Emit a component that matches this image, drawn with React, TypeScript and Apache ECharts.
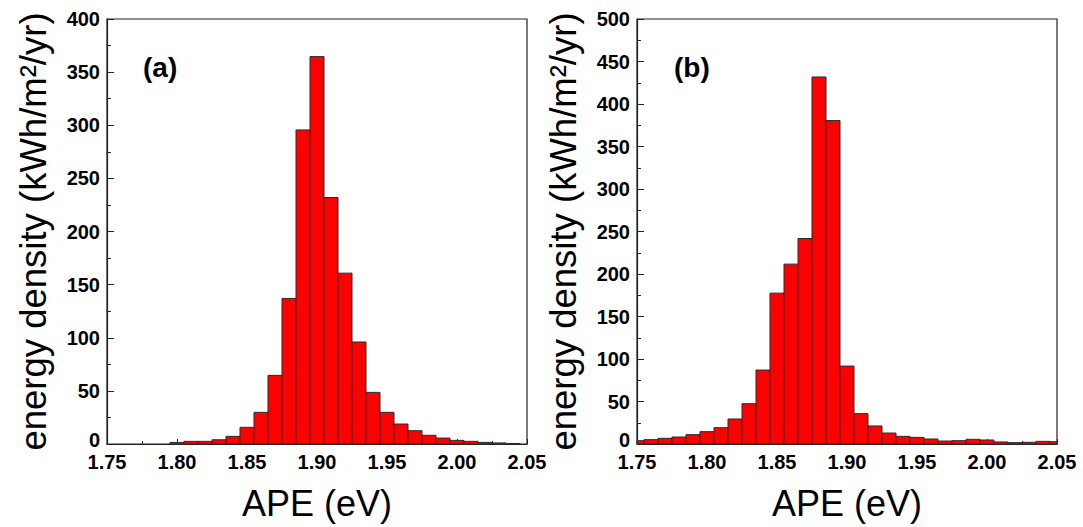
import React, { useEffect, useRef } from "react";
import * as echarts from "echarts";

// APE bin centres (eV), bin width 0.01 eV
const apeBins = [
  1.75, 1.76, 1.77, 1.78, 1.79, 1.80, 1.81, 1.82, 1.83, 1.84,
  1.85, 1.86, 1.87, 1.88, 1.89, 1.90, 1.91, 1.92, 1.93, 1.94,
  1.95, 1.96, 1.97, 1.98, 1.99, 2.00, 2.01, 2.02, 2.03, 2.04, 2.05,
];
const binWidth = 0.01;

// panel (a) energy density, kWh/m^2/yr
const densityA = [
  0, 0, 0, 0, 0, 1.5, 2.5, 2.5, 4, 7.2,
  15.7, 29.8, 64.6, 137, 295.6, 364.6, 232, 160.8, 96, 48.6,
  29.8, 18.8, 12.5, 8.2, 5.6, 3.4, 2.5, 1.5, 1, 0.5, 0,
];

// panel (b) energy density, kWh/m^2/yr
const densityB = [
  3.9, 5.1, 6.7, 8.2, 11, 14.5, 19.2, 29.4, 47.4, 87,
  177.5, 211.6, 241.8, 431.8, 380.5, 91.7, 35.7, 21.2, 12.9, 9,
  7.8, 5.9, 3.5, 3.9, 5.5, 4.7, 2.4, 1.6, 2, 3.1, 2.7,
];

const xTicks = { min: 1.75, max: 2.05, interval: 0.05 };
const yMaxA = 400;
const yMaxB = 500;
const yInterval = 50;
const panelLabels = ["(a)", "(b)"];
const xName = "APE (eV)";
const yName = "energy density (kWh/m²/yr)";

const FONT = "'Liberation Sans', Arial, sans-serif";

function makeX(gridIndex: number) {
  return {
    type: "value",
    gridIndex,
    min: xTicks.min,
    max: xTicks.max,
    interval: xTicks.interval,
    name: xName,
    nameLocation: "middle",
    nameGap: 41,
    nameTextStyle: { fontFamily: FONT, fontSize: 36, color: "#000" },
    axisLine: { show: true, onZero: false, lineStyle: { color: "#222", width: 1.2 } },
    axisTick: { show: true, inside: true, length: 5, lineStyle: { color: "#222" } },
    minorTick: { show: true, splitNumber: 2, length: 3, lineStyle: { color: "#222" } },
    splitLine: { show: false },
    minorSplitLine: { show: false },
    axisLabel: {
      fontFamily: FONT,
      fontWeight: "bold",
      fontSize: 20,
      lineHeight: 15,
      color: "#000",
      margin: 10,
      formatter: (v: number) => v.toFixed(2),
    },
  };
}

function makeY(gridIndex: number, max: number) {
  return {
    type: "value",
    gridIndex,
    min: 0,
    max,
    interval: yInterval,
    name: yName,
    nameLocation: "middle",
    nameGap: 55,
    nameTextStyle: { fontFamily: FONT, fontSize: 36.5, color: "#000" },
    axisLine: { show: true, lineStyle: { color: "#222", width: 1.2 } },
    axisTick: { show: true, inside: true, length: 7, lineStyle: { color: "#222" } },
    minorTick: { show: true, splitNumber: 2, length: 4, lineStyle: { color: "#222" } },
    splitLine: { show: false },
    minorSplitLine: { show: false },
    axisLabel: {
      fontFamily: FONT,
      fontWeight: "bold",
      fontSize: 20,
      lineHeight: 14,
      color: "#000",
      margin: 7,
      formatter: (v: number) => (v === 0 ? "{z|0}" : String(v)),
      rich: {
        z: {
          fontFamily: FONT,
          fontWeight: "bold",
          fontSize: 20,
          lineHeight: 14,
          color: "#000",
          padding: [0, 0, 8, 0],
        },
      },
    },
  };
}

function histSeries(idx: number, values: number[]) {
  return {
    type: "custom",
    xAxisIndex: idx,
    yAxisIndex: idx,
    data: apeBins.map((x, i) => [x, values[i]]),
    renderItem: (params: any, api: any) => {
      const x = api.value(0);
      const y = api.value(1);
      if (!y) return null;
      const p0 = api.coord([x - binWidth / 2, y]);
      const p1 = api.coord([x + binWidth / 2, 0]);
      const cs = params.coordSys;
      const shape = echarts.graphic.clipRectByRect(
        { x: p0[0], y: p0[1], width: p1[0] - p0[0], height: p1[1] - p0[1] },
        { x: cs.x, y: cs.y, width: cs.width, height: cs.height }
      );
      if (!shape) return null;
      return {
        type: "rect",
        shape,
        style: { fill: "#ff0000", stroke: "#2a2a2a", lineWidth: 1 },
      };
    },
  };
}

export default function App() {
  const ref = useRef<HTMLDivElement>(null);
  useEffect(() => {
    if (!ref.current) return;
    const chart = echarts.init(ref.current, null, { renderer: "svg" });
    chart.setOption({
      animation: false,
      backgroundColor: "#fff",
      grid: [
        { left: 107, right: 556, top: 19, bottom: 83, show: true, borderColor: "#222", borderWidth: 1.2, backgroundColor: "transparent" },
        { left: 637, right: 26, top: 19, bottom: 83, show: true, borderColor: "#222", borderWidth: 1.2, backgroundColor: "transparent" },
      ],
      xAxis: [makeX(0), makeX(1)],
      yAxis: [makeY(0, yMaxA), makeY(1, yMaxB)],
      series: [histSeries(0, densityA), histSeries(1, densityB)],
      graphic: [
        {
          type: "text",
          left: 143,
          top: 53,
          style: { text: panelLabels[0], fontFamily: FONT, fontWeight: "bold", fontSize: 28, fill: "#000" },
        },
        {
          type: "text",
          left: 674,
          top: 53,
          style: { text: panelLabels[1], fontFamily: FONT, fontWeight: "bold", fontSize: 28, fill: "#000" },
        },
      ],
    });
    return () => chart.dispose();
  }, []);
  return <div ref={ref} style={{ width: 1083, height: 527, position: "absolute", left: 0, top: 0 }} />;
}
